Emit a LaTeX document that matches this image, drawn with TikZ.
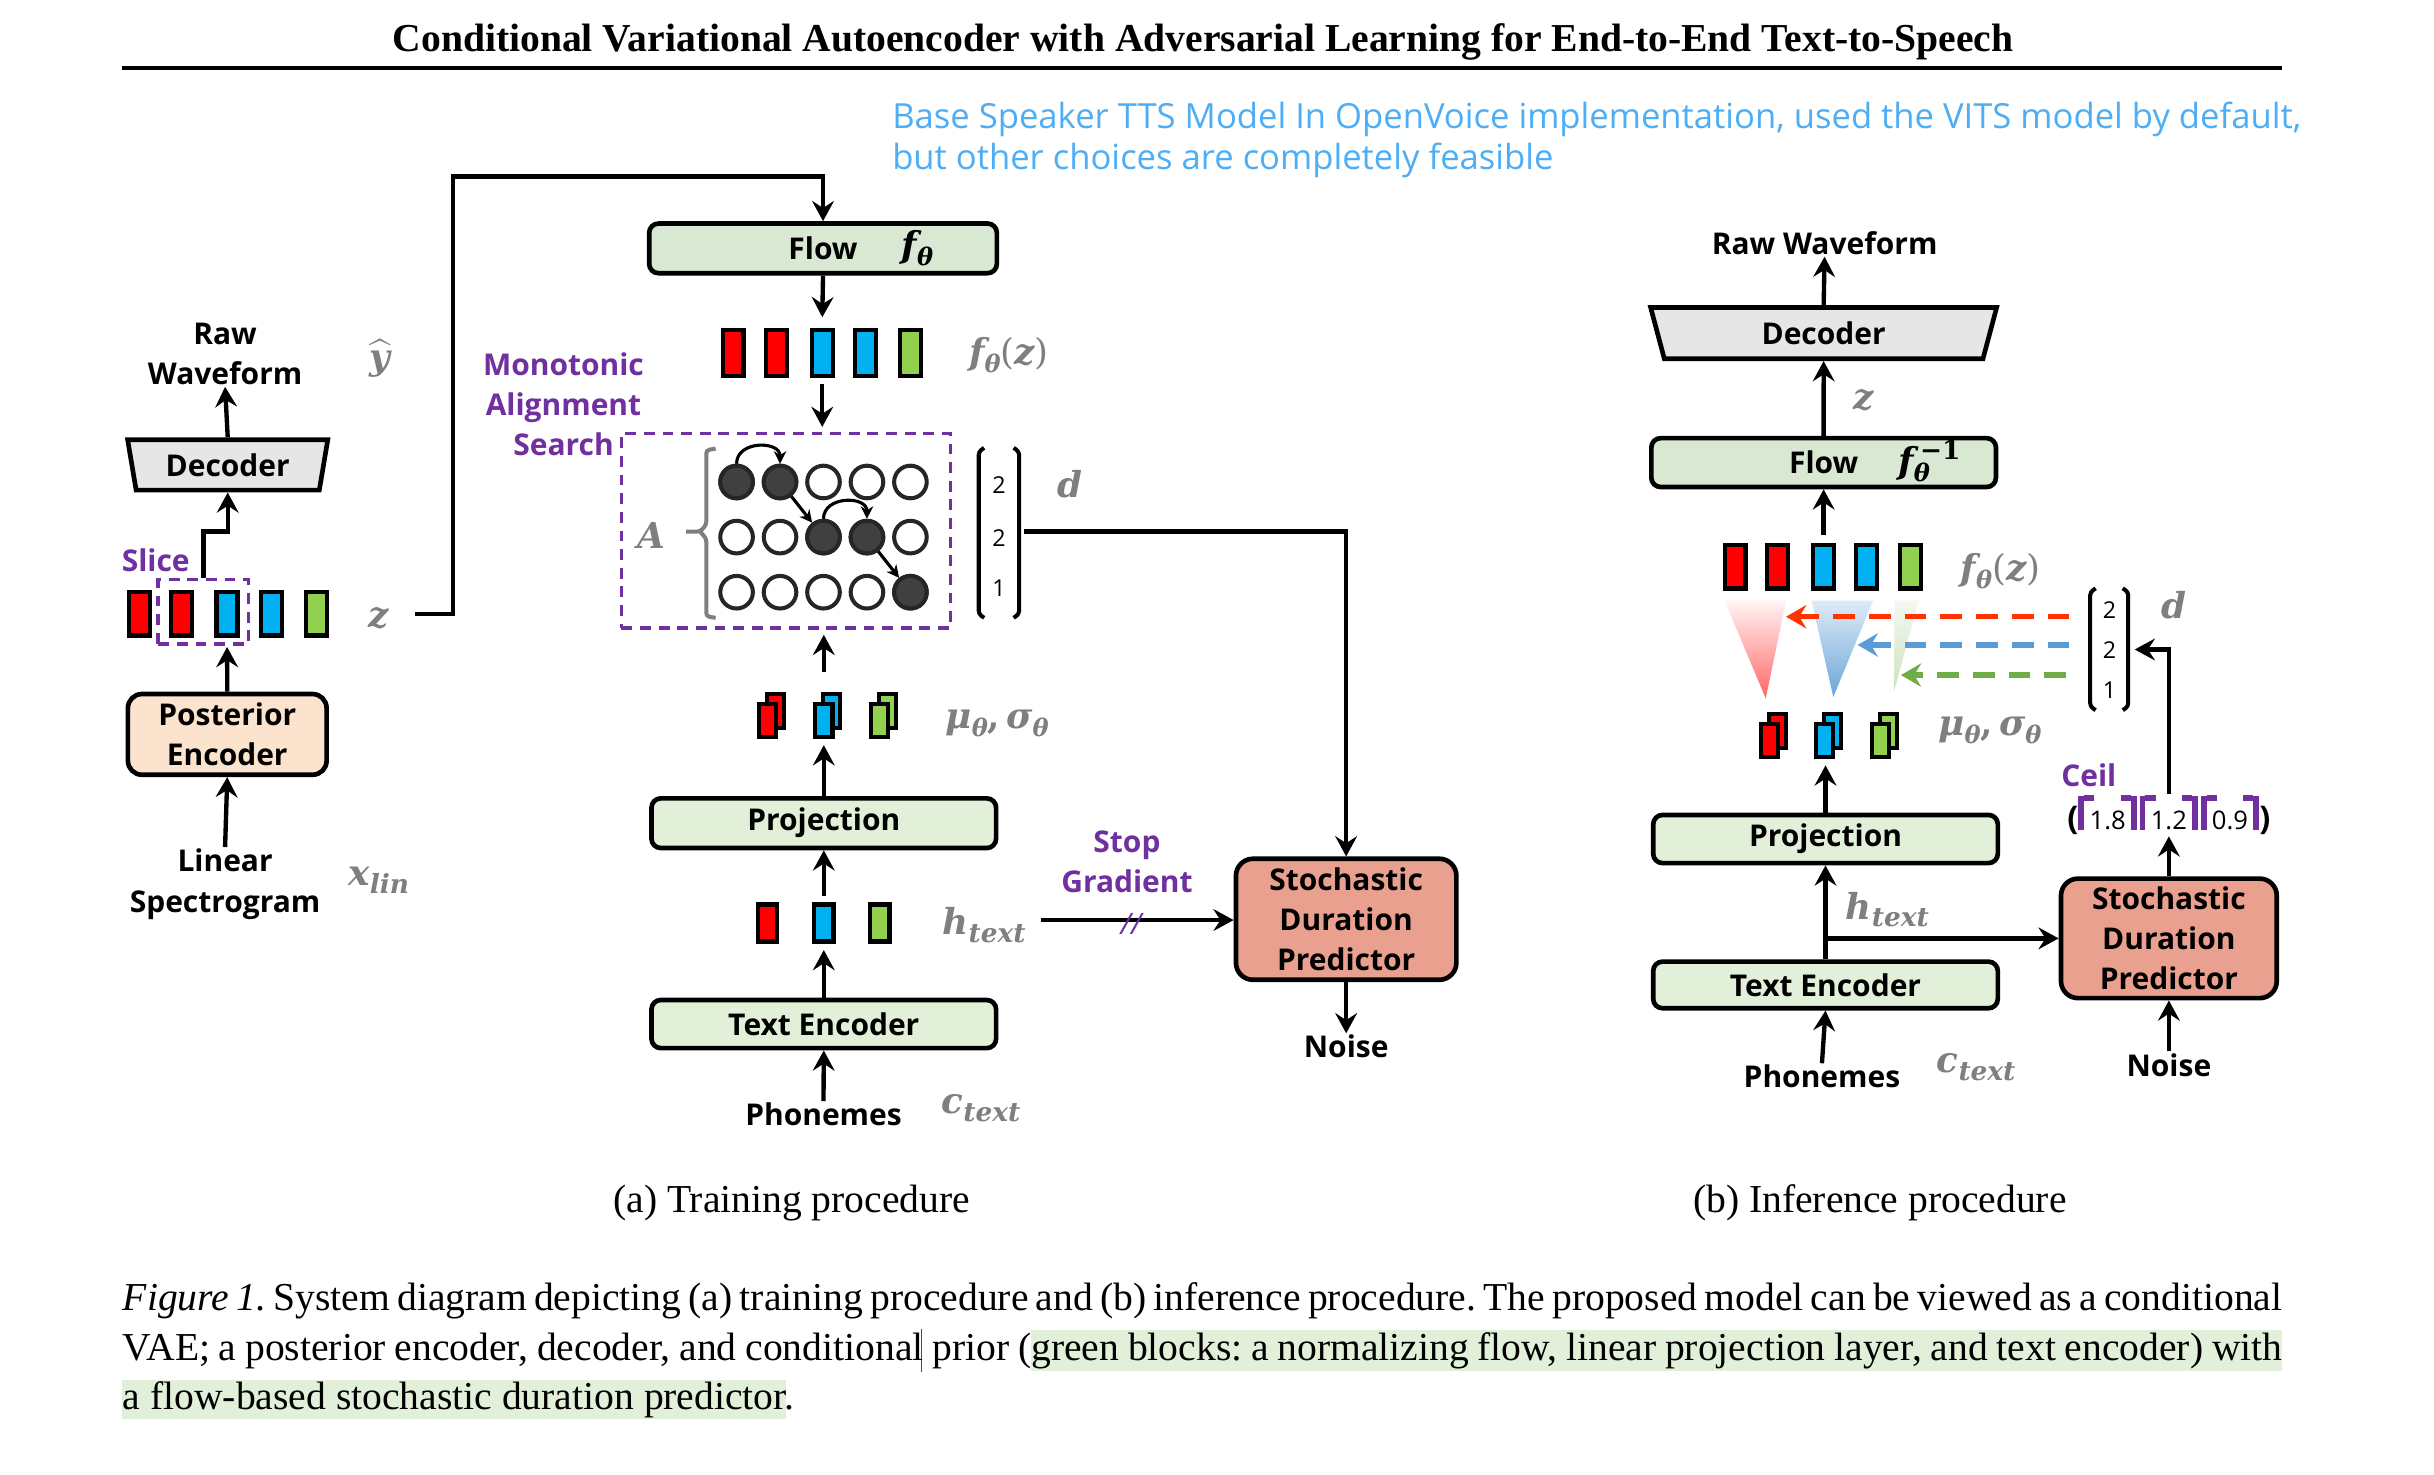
\documentclass[tikz,border=0pt]{standalone}
\usepackage{fontspec}
\usepackage{graphicx}
\usepackage{amsmath}
\setmainfont{Liberation Serif}
\newfontfamily\dg{Open Sans}
\newfontfamily\mfont{DejaVu Serif}
\usetikzlibrary{arrows.meta,shapes.geometric,calc}
\frenchspacing
\definecolor{gfill}{HTML}{E2F0D9}
\definecolor{flowfill}{HTML}{D9E8D2}
\definecolor{sdpfill}{HTML}{EAA08E}
\definecolor{postfill}{HTML}{FBE3CE}
\definecolor{decfill}{HTML}{E6E6E6}
\definecolor{purp}{HTML}{7030A0}
\definecolor{lbl}{HTML}{7F7F7F}
\definecolor{cred}{HTML}{FF0000}
\definecolor{cblue}{HTML}{00B0F0}
\definecolor{cgreen}{HTML}{92D050}
\definecolor{skyb}{HTML}{4DAEF5}
\definecolor{dkc}{HTML}{404040}
\definecolor{dred}{HTML}{FF3300}
\definecolor{dblue}{HTML}{5B9BD5}
\definecolor{dgreen}{HTML}{70AD47}
\definecolor{hl}{HTML}{E2F0D9}
\newcommand{\sbs}[2][15.5]{\raisebox{-5pt}{\fontsize{#1}{#1}\selectfont\bfseries\itshape #2}}
\newcommand{\lc}{\textcolor{purp}{\rule[-0.5pt]{3.8pt}{22pt}\rlap{\raisebox{18pt}{\rule{6.5pt}{3.8pt}}}}}
\newcommand{\rc}{\textcolor{purp}{\llap{\raisebox{18pt}{\rule{6.5pt}{3.8pt}}}\rule[-0.5pt]{3.8pt}{22pt}}}
\tikzset{
  dgt/.style={font=\dg\bfseries\fontsize{19.3}{26}\selectfont, inner sep=1pt},
  ptxt/.style={dgt, text=purp},
  ml/.style={text=lbl, font=\mfont\fontsize{23}{28}\selectfont\bfseries\itshape, inner sep=0pt},
  box/.style={draw=black, line width=3pt, rounded corners=6pt, dgt, inner sep=0pt, align=center},
  gbox/.style={box, fill=gfill},
  dec/.style={trapezium, trapezium angle=76, shape border rotate=180, trapezium stretches=true,
     draw=black, line width=3pt, fill=decfill, dgt, inner sep=0pt},
  arr/.style={line width=2.8pt, -{Stealth[length=13pt,width=14pt,inset=4.5pt]}},
  sarr/.style={line width=2pt, -{Stealth[length=8pt,width=8pt,inset=2.5pt]}},
  blk/.style={draw=black, line width=2.8pt, inner sep=0pt, minimum width=12pt, minimum height=27pt},
  pblk/.style={draw=black, line width=2.6pt, inner sep=0pt, minimum width=11pt, minimum height=21.5pt},
  circ/.style={circle, draw=black!85, line width=2.6pt, minimum size=21pt, inner sep=0pt, fill=white},
  circf/.style={circ, fill=dkc},
  pdash/.style={draw=purp, line width=2.4pt, dash pattern=on 7pt off 5pt},
  brk/.style={line width=2.6pt, rounded corners=2pt},
  captxt/.style={font=\fontsize{25.5}{30}\selectfont, inner sep=0pt},
  numt/.style={font=\dg\fontsize{15}{18}\selectfont},
}
\newcommand{\pairblk}[4]{%
  \node[pblk, fill=#4] (#1b) at (#2+5,#3-6) {};
  \node[pblk, fill=#4] (#1) at (#2,#3) {};
}
\begin{document}
\begin{tikzpicture}[x=1pt,y=-1pt]
\useasboundingbox (0,0) rectangle (1568,950);
\fill[white] (0,0) rectangle (1568,950);

% ---------- title and note
\node[anchor=base, inner sep=0] (title) at (775,33.3) {\resizebox{1044pt}{!}{\bfseries Conditional Variational Autoencoder with Adversarial Learning for End-to-End Text-to-Speech}};
\draw[line width=2.8pt] (78.6,43.7) -- (1470,43.7);
\node[anchor=base west, inner sep=0, text=skyb, font=\dg\fontsize{22.3}{27}\selectfont] (note1) at (574.6,82.7)
  {Base Speaker TTS Model In OpenVoice implementation, used the VITS model by default,};
\node[anchor=base west, inner sep=0, text=skyb, font=\dg\fontsize{22.3}{27}\selectfont] (note2) at (574.6,109.5)
  {but other choices are completely feasible};

% ---------- (a) left column
\node[dgt, align=center] (rawA) at (145,228) {Raw\\Waveform};
\node[ml] (yhat) at (245,231) {$\widehat{\hbox{\mfont\fontsize{23}{28}\selectfont\bfseries\itshape y}}$};
\node[dec, minimum width=129.5pt, minimum height=32.5pt] (decA) at (146.7,299.5) {Decoder};
\draw[arr] (decA.north) -- (rawA.south);

\node[blk, fill=cred, minimum width=13.5pt, minimum height=28pt] (z1) at (90,395.4) {};
\node[blk, fill=cred, minimum width=13.5pt, minimum height=28pt] (z2) at (117.1,395.4) {};
\node[blk, fill=cblue, minimum width=13.5pt, minimum height=28pt] (z3) at (146.3,395.4) {};
\node[blk, fill=cblue, minimum width=13.5pt, minimum height=28pt] (z4) at (174.8,395.4) {};
\node[blk, fill=cgreen, minimum width=13.5pt, minimum height=28pt] (z5) at (203.7,395.4) {};
\node[pdash, minimum width=58pt, minimum height=41.7pt, inner sep=0] (slice) at (131,394.2) {};
\node[ptxt] (slicet) at (100.3,360.8) {Slice};
\draw[arr] (slice.north) -- ++(0,-29.7) -| (decA.south);
\node[ml] (zlab) at (244,398) {z};

\node[box, fill=postfill, minimum width=128pt, minimum height=52pt, rounded corners=9pt] (post) at (146.4,473.1) {Posterior\\Encoder};
\draw[arr] (post.north) -- ($(z3.south)+(0,6)$);
\node[dgt, align=center] (lin) at (145,569.5) {Linear\\Spectrogram};
\draw[arr] (lin.north) -- (post.south);
\node[ml] (xlin) at (244,567) {x\sbs[17]{lin}};

% ---------- (a) centre column
\node[box, fill=flowfill, minimum width=224pt, minimum height=32pt] (flowA) at (530.2,160) {Flow};
\node[font=\mfont\fontsize{23}{28}\selectfont\bfseries\itshape, inner sep=0] (fthA) at (591,160) {f\sbs{θ}};
\coordinate (zout) at (267.4,395.4);
\draw[arr] (zout) -| (292,113.8) -| (flowA.north);

\node[blk, fill=cred, minimum width=13.5pt, minimum height=29.5pt] (fa1) at (472.3,227.5) {};
\node[blk, fill=cred, minimum width=13.5pt, minimum height=29.5pt] (fa2) at (500.2,227.5) {};
\node[blk, fill=cblue, minimum width=13.5pt, minimum height=29.5pt] (fa3) at (529.7,227.5) {};
\node[blk, fill=cblue, minimum width=13.5pt, minimum height=29.5pt] (fa4) at (557.6,227.5) {};
\node[blk, fill=cgreen, minimum width=13.5pt, minimum height=29.5pt] (fa5) at (586.5,227.5) {};
\node[ml] (fzA) at (650,229) {f\sbs{θ}{\mdseries\upshape(}z{\mdseries\upshape)}};
\draw[arr] (flowA.south) -- ($(fa3.north)+(0,-7)$);

\node[pdash, minimum width=212pt, minimum height=125.5pt, inner sep=0] (mas) at (506.3,342) {};
\draw[arr] ($(fa3.south)+(0,4)$) -- ($(mas.north -| fa3)+(0,-3)$);
\node[ptxt, align=center] (mast) at (363,260.5) {Monotonic\\Alignment\\Search};

\foreach \r/\yy in {1/310.5,2/346,3/381.5}
  \foreach \c/\xx in {1/474.5,2/502.5,3/530.5,4/558.5,5/586.5}
    \node[circ] (c\r\c) at (\xx,\yy) {};
\foreach \n in {11,12,23,24,35} \node[circf] (f\n) at (c\n) {};
\draw[sarr] (c11.north) .. controls +(0,-15) and +(0,-15) .. (c12.north);
\draw[sarr] (c12) -- (c23);
\draw[sarr] (c23.north) .. controls +(0,-15) and +(0,-15) .. (c24.north);
\draw[sarr] (c24) -- (c35);
\draw[brk, lbl] (461,289) -- (455,290) -- (455,338) -- (451,342.5) -- (442,342.5) (451,342.5) -- (455,347) -- (455,397) -- (461,398);
\node[ml] (Alab) at (419.5,345) {A};

\node[minimum width=27pt, minimum height=110pt, inner sep=0] (dA) at (643.5,343) {};
\draw[brk] (634,288.5) -- (630.5,291) -- (630.5,395.5) -- (634,398);
\draw[brk] (653,288.5) -- (656.5,291) -- (656.5,395.5) -- (653,398);
\node[numt] at (643.6,312.5) {2};
\node[numt] at (643.6,346.8) {2};
\node[numt] at (643.6,379) {1};
\node[ml] (dlabA) at (689,312) {d};

\pairblk{ma1}{494.5}{464}{cred}
\pairblk{ma2}{530.8}{464}{cblue}
\pairblk{ma3}{566.8}{464}{cgreen}
\node[ml] (muA) at (642.4,466) {μ\sbs{θ}{\upshape,}\,σ\sbs{θ}};

\node[gbox, minimum width=222pt, minimum height=32pt] (projA) at (530.7,530.3) {Projection};
\node[gbox, minimum width=222pt, minimum height=31pt] (teA) at (530.7,659.7) {Text Encoder};
\draw[arr] ($(ma2.north -| projA)+(0,-19)$) -- ($(projA |- mas.south)+(0,3)$);
\draw[arr] (projA.north) -- ($(ma2.south -| projA)+(0,4)$);

\node[blk, fill=cred, minimum width=12.5pt, minimum height=24pt] (ha1) at (494.5,594.6) {};
\node[blk, fill=cblue, minimum width=12.5pt, minimum height=24pt] (ha2) at (530.8,594.6) {};
\node[blk, fill=cgreen, minimum width=12.5pt, minimum height=24pt] (ha3) at (566.8,594.6) {};
\node[ml] (htA) at (634,596) {h\sbs[17]{text}};
\draw[arr] ($(ha2.north -| projA)+(0,-4)$) -- (projA.south);
\draw[arr] (teA.north) -- ($(ha2.south -| projA)+(0,4)$);

\node[dgt] (phA) at (530.5,718) {Phonemes};
\draw[arr] (phA.north) -- (teA.south);
\node[ml] (ctA) at (632,714) {c\sbs[17]{text}};

% ---------- (a) duration predictor
\node[box, fill=sdpfill, minimum width=142pt, minimum height=78pt, rounded corners=11pt] (sdpA) at (867.2,592.2) {Stochastic\\Duration\\Predictor};
\coordinate (dAout) at (659.5,342.5);
\draw[arr] (dAout) -| (sdpA.north);
\coordinate (hAout) at (670.6,592.7);
\draw[arr] (hAout) -- (hAout -| sdpA.west);
\node[ptxt, align=center] (sg) at (726,555) {Stop\\Gradient};
\node[text=purp, font=\dg\itshape\fontsize{19}{19}\selectfont, inner sep=0] (sgm) at (728.6,595.5) {//};
\node[dgt] (noiseA) at (867.2,674.3) {Noise};
\draw[arr] (sdpA.south) -- (noiseA.north);

% ---------- (b) inference
\node[dgt] (rawB) at (1175.4,156.7) {Raw Waveform};
\node[dec, trapezium angle=77, minimum width=223.5pt, minimum height=33pt] (decB) at (1174.8,214.6) {Decoder};
\draw[arr] (decB.north) -- (rawB.south);
\node[box, fill=flowfill, minimum width=222pt, minimum height=31.5pt] (flowB) at (1174.8,298) {Flow};
\node[font=\mfont\fontsize{23}{28}\selectfont\bfseries\itshape, inner sep=0] (fthB) at (1243,297) {f\rlap{\sbs{θ}}\kern4pt\raisebox{9pt}{\fontsize{17}{17}\selectfont\upshape −1}};
\draw[arr] (flowB.north) -- (decB.south);
\node[ml] (zB) at (1200.7,257.7) {z};

\node[blk, fill=cred, minimum width=13.5pt, minimum height=28pt] (fb1) at (1117.8,365) {};
\node[blk, fill=cred, minimum width=13.5pt, minimum height=28pt] (fb2) at (1145.2,365) {};
\node[blk, fill=cblue, minimum width=13.5pt, minimum height=28pt] (fb3) at (1174.6,365) {};
\node[blk, fill=cblue, minimum width=13.5pt, minimum height=28pt] (fb4) at (1202.3,365) {};
\node[blk, fill=cgreen, minimum width=13.5pt, minimum height=28pt] (fb5) at (1230.9,365) {};
\node[ml] (fzB) at (1288.7,368) {f\sbs{θ}{\mdseries\upshape(}z{\mdseries\upshape)}};
\draw[arr] ($(fb3.north -| flowB)+(0,-5)$) -- (flowB.south);

\shade[top color=red!4, bottom color=red!60] (1111,387) -- (1150.6,387) -- (1137.5,450) -- cycle;
\shade[top color=dblue!20, bottom color=dblue!90] (1167,387) -- (1206.6,387) -- (1181,449) -- cycle;
\shade[top color=dgreen!8, bottom color=dgreen!35] (1220.5,387) -- (1236,387) -- (1220,446) -- cycle;

\node[minimum width=33pt, minimum height=79pt, inner sep=0] (dB) at (1358.5,418.4) {};
\draw[brk] (1350,379) -- (1346.5,381.5) -- (1346.5,455) -- (1350,457.5);
\draw[brk] (1367.5,379) -- (1371,381.5) -- (1371,455) -- (1367.5,457.5);
\node[numt] at (1359,393) {2};
\node[numt] at (1359,418.7) {2};
\node[numt] at (1359,444.5) {1};
\node[ml] (dlabB) at (1400.6,389.8) {d};
\coordinate (rB) at (1333,397.3);
\coordinate (bB) at (1333,415.5);
\coordinate (gB) at (1331,434.9);
\draw[line width=3.4pt, dred, dash pattern=on 14pt off 9pt, -{Stealth[length=13pt,width=15pt,inset=4.5pt]}] (rB) -- (1150.6,397.3);
\draw[line width=3.4pt, dblue, dash pattern=on 14pt off 9pt, -{Stealth[length=13pt,width=15pt,inset=4.5pt]}] (bB) -- (1196.7,415.5);
\draw[line width=3.4pt, dgreen, dash pattern=on 14pt off 9pt, -{Stealth[length=13pt,width=15pt,inset=4.5pt]}] (gB) -- (1224.6,434.9);

\pairblk{mb1}{1139.8}{477}{cred}
\pairblk{mb2}{1175.3}{477}{cblue}
\pairblk{mb3}{1211.5}{477}{cgreen}
\node[ml] (muB) at (1282,470.5) {μ\sbs{θ}{\upshape,}\,σ\sbs{θ}};

\node[gbox, minimum width=222pt, minimum height=31pt] (projB) at (1176,540.5) {Projection};
\node[gbox, minimum width=222pt, minimum height=30pt] (teB) at (1176,634.5) {Text Encoder};
\draw[arr] (projB.north) -- ($(mb2.south -| projB)+(0,4)$);
\draw[arr] (teB.north) -- (projB.south);
\coordinate (brB) at (1176,604.5);
\node[ml] (htB) at (1215.8,586) {h\sbs[17]{text}};
\node[dgt] (phB) at (1173.7,693.6) {Phonemes};
\draw[arr] (phB.north) -- (teB.south);
\node[ml] (ctB) at (1273,687.5) {c\sbs[17]{text}};

\node[box, fill=sdpfill, minimum width=139pt, minimum height=77pt, rounded corners=11pt] (sdpB) at (1397.2,604.5) {Stochastic\\Duration\\Predictor};
\draw[arr] (brB) -- (brB -| sdpB.west);
\node[dgt] (noiseB) at (1397.2,686) {Noise};
\draw[arr] (noiseB.north) -- (sdpB.south);
\node[ptxt] (ceilt) at (1345.6,499.3) {Ceil};
\node[font=\dg\fontsize{16.5}{18}\selectfont, inner sep=1pt] (ceilB) at (1397.2,525)
 {{\fontsize{21}{21}\selectfont\bfseries(}\lc\hspace{3.5pt}1.8\hspace{3.5pt}\rc\hspace{1.5pt}\lc\hspace{3.5pt}1.2\hspace{3.5pt}\rc\hspace{1.5pt}\lc\hspace{3.5pt}0.9\hspace{3.5pt}\rc{\fontsize{21}{21}\selectfont\bfseries)}};
\draw[arr] (sdpB.north -| ceilB) -- (ceilB.south);
\draw[arr] (ceilB.north) |- (dB.east);

% ---------- captions
\node[captxt] (capa) at (510,775) {(a) Training procedure};
\node[captxt] (capb) at (1211,775) {(b) Inference procedure};
\fill[hl] (664,857) rectangle (1470,883);
\fill[hl] (78.6,889) rectangle (506.5,914);
\draw[line width=0.8pt, black!70] (593.4,856) -- (593.4,884);
\node[captxt, anchor=base west] (l1) at (79,844.5) {\makebox[1391pt][s]{\textit{Figure 1.} System diagram depicting (a) training procedure and (b) inference procedure. The proposed model can be viewed as a conditional}};
\node[captxt, anchor=base west] (l2) at (79,876.5) {\makebox[1391pt][s]{VAE; a posterior encoder, decoder, and conditional prior (green blocks: a normalizing flow, linear projection layer, and text encoder) with}};
\node[captxt, anchor=base west] (l3) at (79,908) {a flow-based stochastic duration predictor.};
\end{tikzpicture}
\end{document}
